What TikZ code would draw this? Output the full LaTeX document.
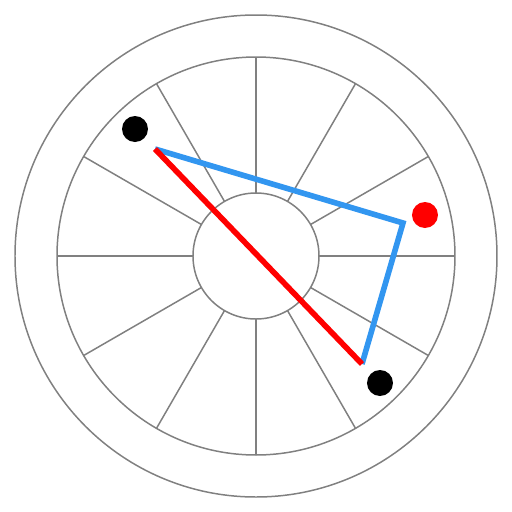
\documentclass[tikz,border=0pt]{standalone}
\usepackage{tikz}
\usetikzlibrary{calc}
\tikzset{
  wire/.style={line width=0.85pt, color=black!50},
  dot/.style={circle, inner sep=0pt, minimum size=0.52cm},
}
\begin{document}
\begin{tikzpicture}[x=0.02cm, y=0.02cm]
		%%%%% START %%%%%
		\useasboundingbox (-256, -256) rectangle (256, 256);
		
		\draw[wire] (0, 0) circle (241);
		\draw[wire] (0, 0) circle (199);
		\draw[wire] (0, 0) circle (63);
		\foreach \a in {0, 30, ..., 330}
			\draw[wire] (\a:63) -- (\a:199);
		
		\node[dot, fill=black] (topdot) at (-121, 127) {};
		\node[dot, fill=red] (reddot) at (169, 41) {};
		\node[dot, fill=black] (lowdot) at (124, -127) {};
		
		\coordinate (apex) at (-101, 107);
		\coordinate (corner) at (147, 33);
		\coordinate (foot) at (106, -108);
		
		\draw[line width=3.2pt, color={rgb,255:red,50;green,150;blue,240}, line join=miter] (apex) -- (corner) -- (foot);
		\draw[line width=3.2pt, color=red] (apex) -- (foot);
		
		%%%%% END %%%%%
\end{tikzpicture}
\end{document}
